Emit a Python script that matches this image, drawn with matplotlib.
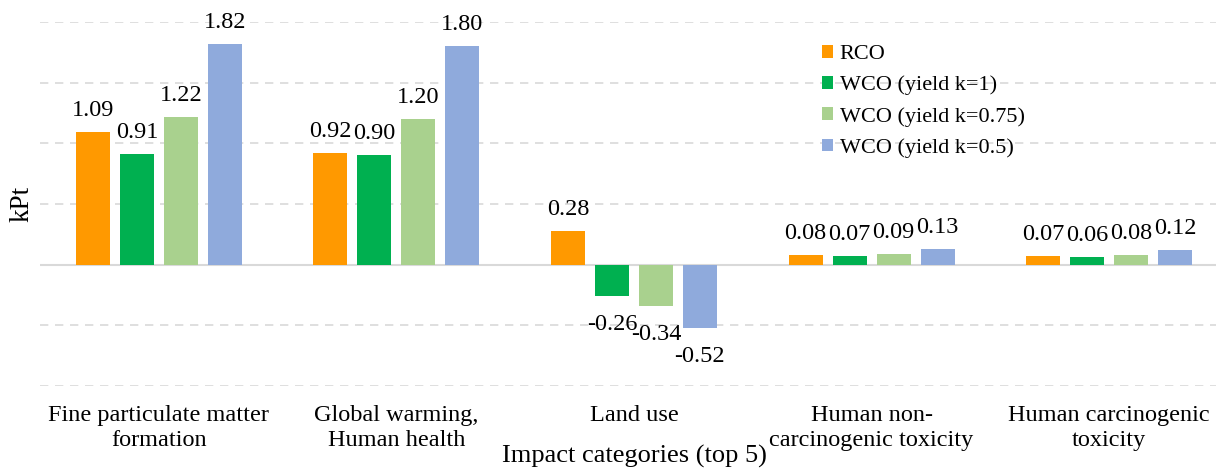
import numpy as np
import matplotlib.pyplot as plt

plt.rcParams["font.family"] = ["Liberation Serif", "DejaVu Serif"]

categories = ["Fine particulate matter\nformation", "Global warming,\nHuman health", "Land use",
              "Human non-\ncarcinogenic toxicity", "Human carcinogenic\ntoxicity"]
series = ["RCO", "WCO (yield k=1)", "WCO (yield k=0.75)", "WCO (yield k=0.5)"]
rco = [1.09, 0.92, 0.28, 0.08, 0.07]
wco_k1 = [0.91, 0.90, -0.26, 0.07, 0.06]
wco_k075 = [1.22, 1.20, -0.34, 0.09, 0.08]
wco_k05 = [1.82, 1.80, -0.52, 0.13, 0.12]
colors = ["#FF9900", "#00B050", "#A9D18E", "#8FAADC"]

fs = 17.5
fig = plt.figure(figsize=(12.16, 4.68), dpi=100)
ax = fig.add_axes([40 / 1216, 82 / 468, 1188 / 1216, 364 / 468])

x = np.arange(len(categories))
width = 0.143
pitch = 0.185
for i, (name, vals) in enumerate(zip(series, [rco, wco_k1, wco_k075, wco_k05])):
    pos = x + (i - 1.5) * pitch
    ax.bar(pos, vals, width, color=colors[i], label=name, zorder=3)
    for px, v in zip(pos, vals):
        if v >= 0:
            ax.annotate(f"{v:.2f}", (px, v), xytext=(0, 8), textcoords="offset points",
                        ha="center", va="bottom", fontsize=fs)
        else:
            ax.annotate(f"{v:.2f}", (px, v), xytext=(0, -13), textcoords="offset points",
                        ha="center", va="top", fontsize=fs)

ax.set_xlim(-0.5, len(categories) - 0.5)
ax.set_ylim(-1, 2)
ax.set_yticks(np.arange(-1, 2.01, 0.5))
ax.set_yticklabels([])
ax.tick_params(axis="y", length=0)
ax.tick_params(axis="x", length=0, pad=14, labelsize=fs)
ax.set_xticks(x)
ax.set_xticklabels(categories, linespacing=1.25)
ax.grid(axis="y", color="#D9D9D9", linestyle=(0, (5, 4)), linewidth=1.2, zorder=0)
ax.axhline(0, color="#D9D9D9", linewidth=1.5, zorder=2)
for s in ax.spines.values():
    s.set_visible(False)

fig.text(22 / 1216, 1 - 204 / 468, "kPt", fontsize=19.5, rotation=90, ha="center", va="center")
fig.text(634 / 1216, 1 - 456 / 468, "Impact categories (top 5)", fontsize=19,
         ha="center", va="center")

ax.legend(loc="upper left", bbox_to_anchor=(762 / 1188, 0.992), frameon=False, fontsize=16,
          handlelength=0.5, handleheight=0.5, handletextpad=0.3, labelspacing=0.52)

fig.savefig("out.png", dpi=100)
